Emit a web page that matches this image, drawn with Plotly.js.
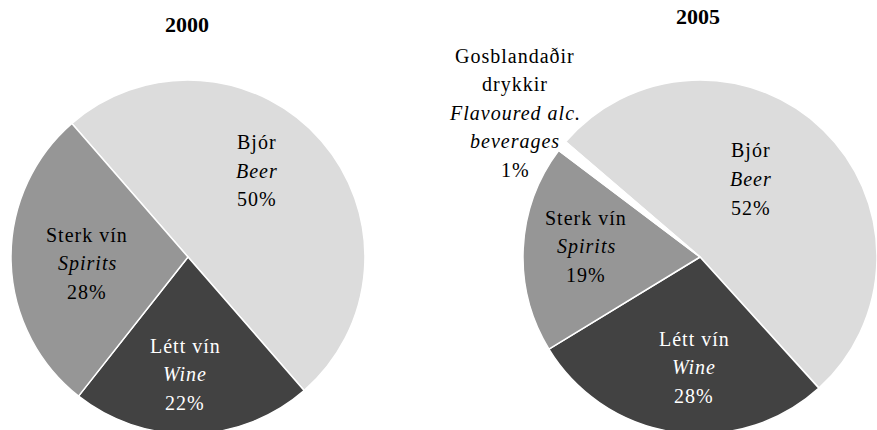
<!DOCTYPE html>
<html><head><meta charset="utf-8">
<script src="https://cdn.plot.ly/plotly-3.0.1.min.js"></script>
<style>
html,body{margin:0;padding:0;overflow:hidden;background:#fff;}
#chart{width:877px;height:440px;}
.annotation-text{letter-spacing:1px;}
g.annotation[data-index="0"] .annotation-text, g.annotation[data-index="1"] .annotation-text{letter-spacing:0;}
</style></head><body><div id="chart"></div>
<script>
// ---- data ----
const years = ['2000', '2005'];
const categoriesEn = ['Beer', 'Wine', 'Spirits', 'Flavoured alc. beverages'];
const labelLinesIs = [['Bjór'], ['Létt vín'], ['Sterk vín'], ['Gosblandaðir', 'drykkir']];
const labelLinesEn = [['Beer'], ['Wine'], ['Spirits'], ['Flavoured alc.', 'beverages']];
const values2000 = [50, 22, 28];
const values2005 = [52, 28, 19, 1];

// ---- styles / layout ----
const W = 877, H = 440;
const FONT = 'Liberation Serif, Times New Roman, serif';
const sliceColors = ['#dcdcdc', '#424242', '#969696', '#ffffff'];
const textColors = ['#000000', '#ffffff', '#000000', '#000000'];
const pies = [
  {values: values2000, cx: 188, cy: 257, r: 177, rotation: -41, titleXY: [187, 25],
   labelXY: [[257, 171], [185, 374], [87, 263]]},
  {values: values2005, cx: 700, cy: 257, r: 177, rotation: -49.4, titleXY: [698, 16],
   labelXY: [[751, 179], [694, 367], [586, 246], [515, 113]]}
];
const lineGap = 28.5;

const traces = pies.map(p => ({
  type: 'pie',
  values: p.values,
  labels: categoriesEn.slice(0, p.values.length),
  sort: false,
  direction: 'clockwise',
  rotation: p.rotation,
  marker: {colors: sliceColors.slice(0, p.values.length), line: {color: '#ffffff', width: 1.5}},
  textinfo: 'none',
  hoverinfo: 'none',
  showlegend: false,
  domain: {
    x: [(p.cx - p.r) / W, Math.min(1, (p.cx + p.r) / W)],
    y: [(H - p.cy - p.r) / H, (H - p.cy + p.r) / H]
  }
}));

const annotations = [];
pies.forEach((p, k) => {
  annotations.push({
    text: '<b>' + years[k] + '</b>', xref: 'paper', yref: 'paper',
    x: p.titleXY[0] / W, y: 1 - p.titleXY[1] / H, xanchor: 'center', yanchor: 'middle',
    showarrow: false, font: {family: FONT, size: 22, color: '#000'}
  });
});
pies.forEach((p, k) => {
  const total = p.values.reduce((a, b) => a + b, 0);
  p.values.forEach((v, i) => {
    const lines = labelLinesIs[i].concat(labelLinesEn[i].map(s => '<i>' + s + '</i>'))
      .concat([Math.round(v / total * 100) + '%']);
    const n = lines.length;
    lines.forEach((ln, j) => {
      const py = p.labelXY[i][1] + (j - (n - 1) / 2) * lineGap;
      annotations.push({
        text: ln, xref: 'paper', yref: 'paper',
        x: p.labelXY[i][0] / W, y: 1 - py / H, xanchor: 'center', yanchor: 'middle',
        showarrow: false, font: {family: FONT, size: 20, color: textColors[i]}
      });
    });
  });
});

const layout = {
  width: W, height: H,
  margin: {l: 0, r: 0, t: 0, b: 0},
  paper_bgcolor: '#ffffff',
  plot_bgcolor: '#ffffff',
  showlegend: false,
  annotations: annotations
};
Plotly.newPlot('chart', traces, layout, {displayModeBar: false, staticPlot: true});
</script></body></html>
